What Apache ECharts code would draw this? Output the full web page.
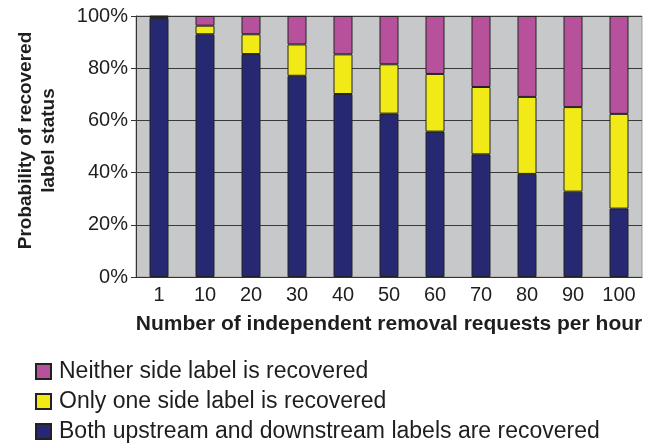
<!DOCTYPE html>
<html>
<head>
<meta charset="utf-8">
<script src="https://cdn.jsdelivr.net/npm/echarts@6/dist/echarts.min.js"></script>
<style>
  html, body { margin: 0; padding: 0; background: #fff; }
  #chart { width: 662px; height: 445px; }
</style>
</head>
<body>
<div id="chart"></div>
<script>
// Removal request rates (requests per hour)
const categories = ['1', '10', '20', '30', '40', '50', '60', '70', '80', '90', '100'];

// Probability (%) of each recovered-label outcome
const bothRecovered = [99.2, 93.0, 85.4, 77.1, 70.1, 62.6, 55.7, 47.0, 39.5, 32.7, 26.2];
const oneRecovered  = [0.6, 3.3, 7.6, 12.0, 15.2, 18.9, 22.1, 25.8, 29.5, 32.4, 36.3];
const noneRecovered = [0.2, 3.7, 7.0, 10.9, 14.7, 18.5, 22.2, 27.2, 31.0, 34.9, 37.5];

const yTicks = [0, 20, 40, 60, 80, 100];

const names = {
  none: 'Neither side label is recovered',
  one: 'Only one side label is recovered',
  both: 'Both upstream and downstream labels are recovered'
};

const font = '"Liberation Sans", Arial, sans-serif';
const ink = '#1e1e1e';

const chart = echarts.init(document.getElementById('chart'));

function barSeries(name, data, color) {
  return {
    name: name,
    type: 'bar',
    stack: 'total',
    data: data,
    barWidth: 19,
    itemStyle: { color: color, borderColor: '#222', borderWidth: 1 }
  };
}

chart.setOption({
  animation: false,
  textStyle: { fontFamily: font, color: ink },
  grid: {
    left: 136, right: 20, top: 16, bottom: 168,
    show: true,
    backgroundColor: '#c7c8ca',
    borderColor: '#9a9a9a',
    borderWidth: 1
  },
  legend: {
    orient: 'vertical',
    left: 35,
    top: 360,
    padding: 0,
    itemWidth: 15,
    itemHeight: 15,
    itemGap: 7,
    icon: 'rect',
    data: [names.none, names.one, names.both],
    textStyle: { fontFamily: font, fontSize: 23, color: ink, lineHeight: 23, padding: [0, 0, 0, 3] }
  },
  xAxis: {
    type: 'category',
    data: categories,
    name: 'Number of independent removal requests per hour',
    nameLocation: 'middle',
    nameGap: 37,
    nameTextStyle: { fontFamily: font, fontSize: 21, fontWeight: 'bold', color: ink },
    axisLine: { lineStyle: { color: '#333', width: 1 } },
    axisTick: { show: false },
    axisLabel: { fontFamily: font, fontSize: 20, color: ink, margin: 8 },
    splitLine: { show: false }
  },
  yAxis: {
    type: 'value',
    min: 0,
    max: 100,
    interval: 20,
    name: 'Probability of recovered\nlabel status',
    nameLocation: 'middle',
    nameRotate: 90,
    nameGap: 76,
    nameTextStyle: {
      fontFamily: font, fontSize: 19, fontWeight: 'bold', color: ink,
      lineHeight: 23, align: 'center', padding: [0, 0, 0, 12]
    },
    axisLine: { show: true, lineStyle: { color: '#333', width: 1 } },
    axisTick: { show: true, length: 5, lineStyle: { color: '#333' } },
    axisLabel: {
      fontFamily: font, fontSize: 20, color: ink, margin: 8,
      formatter: function (v) { return yTicks.indexOf(v) >= 0 ? v + '%' : ''; }
    },
    splitLine: { show: true, lineStyle: { color: '#3a3a3a', width: 1 } }
  },
  series: [
    barSeries(names.both, bothRecovered, '#262872'),
    barSeries(names.one, oneRecovered, '#f2ea16'),
    barSeries(names.none, noneRecovered, '#b8519b')
  ]
});
</script>
</body>
</html>
